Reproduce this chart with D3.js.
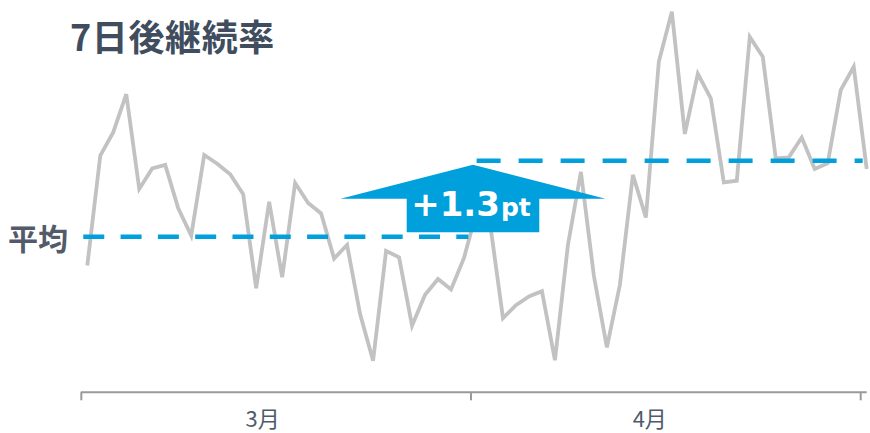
<!DOCTYPE html>
<html>
<head>
<meta charset="utf-8">
<script src="https://cdn.jsdelivr.net/npm/d3@7"></script>
<style>
  html, body { margin: 0; padding: 0; background: #ffffff; }
  svg { display: block; }
</style>
</head>
<body>
<svg id="chart" width="870" height="433"></svg>
<script>
// ---- data ----
const title = "7日後継続率";
const avgLabel = "平均";

// daily 7-day retention (%), one value per day
const retention = [
  39.51, 41.39, 41.79, 42.44, 40.82, 41.17, 41.23, 40.49, 40.02, 41.40,
  41.25, 41.07, 40.73, 39.12, 40.60, 39.31, 40.92, 40.58, 40.40, 39.63,
  39.86, 38.68, 37.88, 39.76, 39.65, 38.48, 39.01, 39.28, 39.10, 39.64,
  40.46, 40.24, 38.61, 38.83, 38.98, 39.07, 37.89, 39.86, 41.11, 39.33,
  38.11, 39.18, 41.06, 40.33, 43.00, 43.85, 41.76, 42.79, 42.37, 40.93,
  40.96, 43.42, 43.08, 41.34, 41.36, 41.70, 41.16, 41.26, 42.51, 42.91,
  41.16
];

// month boundaries and label anchors, in day-index units
const monthLabels = ["3月", "4月"];
const monthBounds = [-0.5, 29.5, 59.5];
const monthCenters = [13.5, 43.3];

// period averages (%) and the day ranges they cover
const avgBefore = 40.0;
const avgAfter = 41.3;
const periodBefore = [-0.31, 29.33];
const periodAfter = [29.97, 59.69];

// ---- layout ----
const svg = d3.select("#chart");
const fontCJK = "'Noto Sans CJK JP', 'Noto Sans', sans-serif";

const x = d3.scaleLinear().domain([0, retention.length - 1]).range([87.3, 866.7]);
const y = d3.scaleLinear().domain([37.5, 44]).range([383, 3]);

const blue = "#00a0dc";
const axisY = 392.3;

// x axis: baseline plus month-boundary ticks
const axisG = svg.append("g").attr("transform", `translate(0,${axisY})`);
axisG.append("line")
  .attr("x1", x(monthBounds[0])).attr("x2", x(retention.length - 1))
  .attr("y1", 0).attr("y2", 0)
  .attr("stroke", "#9a9a9a").attr("stroke-width", 2);
axisG.call(
  d3.axisBottom(x).tickValues(monthBounds).tickSize(8).tickSizeOuter(0).tickFormat("")
);
axisG.select(".domain").remove();
axisG.selectAll(".tick line").attr("stroke", "#9a9a9a").attr("stroke-width", 2);

svg.append("g").selectAll("text")
  .data(monthLabels)
  .join("text")
  .attr("x", (d, i) => x(monthCenters[i]))
  .attr("y", 427)
  .attr("text-anchor", "middle")
  .attr("font-family", fontCJK)
  .attr("font-size", 22)
  .attr("fill", "#4e5a6a")
  .text(d => d);

// retention line
const line = d3.line().x((d, i) => x(i)).y(d => y(d));
svg.append("path")
  .datum(retention)
  .attr("d", line)
  .attr("fill", "none")
  .attr("stroke", "#c2c2c2")
  .attr("stroke-width", 3.8)
  .attr("stroke-linejoin", "miter");

// dashed average lines for each period
const avgs = [
  { v: avgBefore, range: periodBefore, dash: "21 16.3" },
  { v: avgAfter, range: periodAfter, dash: "24 18" }
];
svg.append("g").selectAll("line")
  .data(avgs)
  .join("line")
  .attr("x1", d => x(d.range[0]))
  .attr("x2", d => x(d.range[1]))
  .attr("y1", d => y(d.v))
  .attr("y2", d => y(d.v))
  .attr("stroke", blue)
  .attr("stroke-width", 4.5)
  .attr("stroke-dasharray", d => d.dash);

// "平均" label beside the first average line
svg.append("text")
  .attr("x", 8)
  .attr("y", y(avgBefore) + 13)
  .attr("font-family", fontCJK)
  .attr("font-weight", 700)
  .attr("font-size", 30)
  .attr("fill", "#535b6b")
  .text(avgLabel);

// upward arrow spanning the two averages
const cx = 473;
const tipY = y(avgAfter) + 4;
const baseY = y(avgBefore) - 4.5;
const shoulderY = tipY + 34;
const headHalf = 132.5;
const boxHalf = 66.3;
svg.append("path")
  .attr("d", [
    `M${cx - headHalf},${shoulderY}`,
    `L${cx},${tipY}`,
    `L${cx + headHalf},${shoulderY}`,
    `L${cx + boxHalf},${shoulderY}`,
    `L${cx + boxHalf},${baseY}`,
    `L${cx - boxHalf},${baseY}`,
    `L${cx - boxHalf},${shoulderY}`,
    "Z"
  ].join(""))
  .attr("fill", blue);

const diff = (avgAfter - avgBefore).toFixed(1);
const diffText = svg.append("text")
  .attr("x", 471)
  .attr("y", 216)
  .attr("text-anchor", "middle")
  .attr("font-family", "'DejaVu Sans', Verdana, sans-serif")
  .attr("font-weight", 700)
  .attr("fill", "#ffffff");
diffText.append("tspan").attr("font-size", 34).text(`+${diff}`);
diffText.append("tspan").attr("font-size", 25).attr("dx", 1).text("pt");

// title
svg.append("text")
  .attr("x", 70)
  .attr("y", 51)
  .attr("font-family", fontCJK)
  .attr("font-weight", 700)
  .attr("font-size", 36)
  .attr("letter-spacing", 0.6)
  .attr("fill", "#3f4d5e")
  .text(title);
</script>
</body>
</html>
